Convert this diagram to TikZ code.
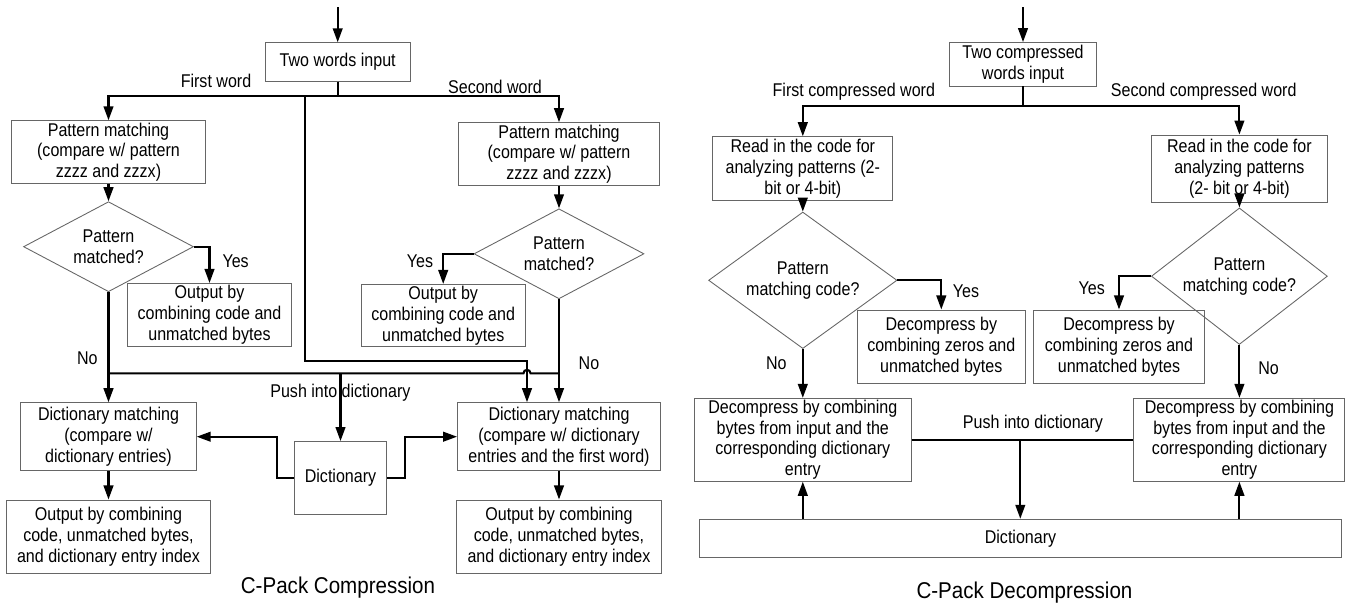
\documentclass[tikz,border=0pt]{standalone}
\usepackage{fontspec}
\setmainfont[FakeStretch=0.87]{Liberation Sans}
\newfontfamily\capfont[FakeStretch=0.9]{Liberation Sans}
\usetikzlibrary{shapes.geometric,arrows.meta}

\begin{document}
\begin{tikzpicture}
[
    x=0.02cm, y=-0.02cm,
    font=\fontsize{10.5}{11.8}\selectfont,
    box/.style={draw=black!60, line width=0.5pt, align=center, inner sep=1pt},
    decision/.style={diamond, draw=black!60, line width=0.5pt, align=center, inner sep=-2pt},
    link/.style={line width=1.2pt},
    flow/.style={line width=1.2pt, -{Triangle[length=8pt,width=5.5pt]}},
    lbl/.style={inner sep=1pt},
    caption/.style={font=\fontsize{13}{15}\selectfont\capfont},
]
\useasboundingbox (0,0) rectangle (1349,605);

% C-Pack compression
\coordinate (topL) at (337.7,7);
\node [box, minimum width=2.91cm, minimum height=0.77cm] (inL) at (337.7,62) {Two words input};
\coordinate (splitL) at (337.7,96);
\node [box, minimum width=3.89cm, minimum height=1.25cm] (pmA) at (108.5,152)
{Pattern matching\\(compare w/ pattern\\zzzz and zzzx)};
\node [box, minimum width=4.01cm, minimum height=1.26cm] (pmB) at (559,154.2)
{Pattern matching\\(compare w/ pattern\\zzzz and zzzx)};
\node [decision, minimum width=3.4cm, minimum height=1.44cm] (decA) at (108.5,246.7) {Pattern\\matched?};
\node [decision, minimum width=3.4cm, minimum height=1.42cm] (decB) at (559,253.8) {Pattern\\matched?};
\node [box, minimum width=3.27cm, minimum height=1.25cm] (outA) at (209.5,314.7)
{Output by\\combining code and\\unmatched bytes};
\node [box, minimum width=3.28cm, minimum height=1.22cm] (outB) at (443.2,315.5)
{Output by\\combining code and\\unmatched bytes};
\node [box, minimum width=3.51cm, minimum height=1.36cm] (dmA) at (108.5,436.7)
{Dictionary matching\\(compare w/\\dictionary entries)};
\node [box, minimum width=4.06cm, minimum height=1.36cm] (dmB) at (559,436.7)
{Dictionary matching\\(compare w/ dictionary\\entries and the first word)};
\node [box, minimum width=1.85cm, minimum height=1.45cm] (dictL) at (340.5,477.8) {Dictionary};
\node [box, minimum width=4.09cm, minimum height=1.47cm] (outC) at (108.5,536.7)
{Output by combining\\code, unmatched bytes,\\and dictionary entry index};
\node [box, minimum width=4.11cm, minimum height=1.47cm] (outD) at (559,536.7)
{Output by combining\\code, unmatched bytes,\\and dictionary entry index};

\node [lbl] (firstL) at (216,81) {First word};
\node [lbl] (secondL) at (495,87) {Second word};
\node [lbl] (yesA) at (235.6,261.7) {Yes};
\node [lbl] (yesB) at (420,261.7) {Yes};
\node [lbl] (noA) at (87.4,358.3) {No};
\node [lbl] (noB) at (589,363.3) {No};
\node [lbl] (pushL) at (340.4,392.7) {Push into dictionary};
\node [caption] (capL) at (338,587.3) {C-Pack Compression};

\coordinate (bypass) at (305,96);
\coordinate (bypassturn) at (527,361.3);
\coordinate (noleft) at (108.5,373.3);
\coordinate (noright) at (559,373.3);
\coordinate (pushtop) at (340.5,373.3);
\coordinate (dictleft) at (276.6,477.8);
\coordinate (dictright) at (405.4,477.8);

\draw [flow] (topL) -- (inL.north);
\draw [link] (inL.south) -- (splitL);
\draw [flow] (splitL) -| (pmA.north);
\draw [flow] (splitL) -| (pmB.north);
\draw [flow] (pmA) -- (decA);
\draw [flow] (pmB) -- (decB);
\draw [flow] (decA.east) -| (outA.north);
\draw [flow] (decB.west) -| (outB.north);
\draw [flow] (decA.south) -- (dmA.north);
\draw [flow] (decB.south) -- (dmB.north);
\draw [link] (noleft) -- ([xshift=-2pt]bypassturn |- noleft)
    arc [start angle=180, end angle=0, radius=2pt] -- (noright);
\draw [flow] (bypass) |- (bypassturn) -- (bypassturn |- dmB.north);
\draw [flow] (pushtop) -- (dictL.north);
\draw [flow] (dictL.west) -- (dictleft) |- (dmA.east);
\draw [flow] (dictL.east) -- (dictright) |- (dmB.west);
\draw [flow] (dmA) -- (outC);
\draw [flow] (dmB) -- (outD);

% C-Pack decompression
\coordinate (topR) at (1023,7);
\node [box, minimum width=2.94cm, minimum height=0.87cm] (inR) at (1023,64.3) {Two compressed\\words input};
\coordinate (splitR) at (1023,106);
\node [box, minimum width=3.6cm, minimum height=1.28cm] (readA) at (802.8,168.7)
{Read in the code for\\analyzing patterns (2-\\bit or 4-bit)};
\node [box, minimum width=3.51cm, minimum height=1.35cm] (readB) at (1239.4,168.8)
{Read in the code for\\analyzing patterns\\(2- bit or 4-bit)};
\node [decision, minimum width=3.77cm, minimum height=1.92cm] (decC) at (802.8,280.3) {Pattern\\matching code?};
\node [decision, minimum width=3.52cm, minimum height=1.91cm] (decD) at (1239.4,276.2) {Pattern\\matching code?};
\node [box, minimum width=3.36cm, minimum height=1.47cm] (zeroA) at (941.3,346.7)
{Decompress by\\combining zeros and\\unmatched bytes};
\node [box, minimum width=3.41cm, minimum height=1.47cm] (zeroB) at (1119,346.7)
{Decompress by\\combining zeros and\\unmatched bytes};
\node [box, minimum width=4.34cm, minimum height=1.62cm] (decompA) at (802.8,439.8)
{Decompress by combining\\bytes from input and the\\corresponding dictionary\\entry};
\node [box, minimum width=4.22cm, minimum height=1.62cm] (decompB) at (1239.4,439.8)
{Decompress by combining\\bytes from input and the\\corresponding dictionary\\entry};
\node [box, minimum width=12.85cm, minimum height=0.77cm] (dictR) at (1020.5,538.5) {Dictionary};

\node [lbl] (firstR) at (853.8,91.7) {First compressed word};
\node [lbl] (secondR) at (1203.7,91.7) {Second compressed word};
\node [lbl] (yesC) at (966,291) {Yes};
\node [lbl] (yesD) at (1091.7,288.3) {Yes};
\node [lbl] (noC) at (776.3,363.3) {No};
\node [lbl] (noD) at (1268.5,368.3) {No};
\node [lbl] (pushR) at (1033,424) {Push into dictionary};
\node [caption] (capR) at (1024.5,592.7) {C-Pack Decompression};

\coordinate (pushmid) at (1020.3,439.8);

\draw [flow] (topR) -- (inR.north);
\draw [link] (inR.south) -- (splitR);
\draw [flow] (splitR) -| (readA.north);
\draw [flow] (splitR) -| (readB.north);
\draw [flow] (readA) -- (decC);
\draw [flow] (readB) -- (decD);
\draw [flow] (decC.east) -| (zeroA.north);
\draw [flow] (decD.west) -| (zeroB.north);
\draw [flow] (decC.south) -- (decompA.north);
\draw [flow] (decD.south) -- (decompB.north);
\draw [link] (decompA.east) -- (decompB.west);
\draw [flow] (pushmid) -- (pushmid |- dictR.north);
\draw [flow] (decompA.south |- dictR.north) -- (decompA.south);
\draw [flow] (decompB.south |- dictR.north) -- (decompB.south);
\end{tikzpicture}
\end{document}
